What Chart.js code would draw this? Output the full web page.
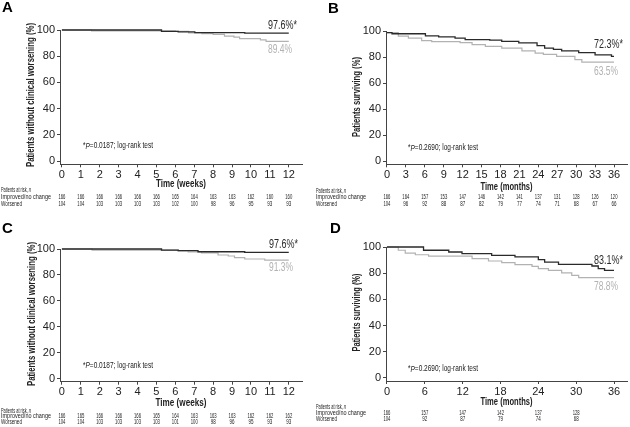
<!DOCTYPE html>
<html>
<head>
<meta charset="utf-8">
<script src="https://cdn.jsdelivr.net/npm/chart.js@4.4.0/dist/chart.umd.min.js"></script>
<style>
  html, body { margin: 0; padding: 0; background: #fff; }
  #wrap { position: relative; width: 630px; height: 427px; overflow: hidden; }
  canvas { position: absolute; }
</style>
</head>
<body>
<div id="wrap">
  <canvas id="cA" width="315" height="213" style="left:0;top:0"></canvas>
  <canvas id="cB" width="315" height="213" style="left:315px;top:0"></canvas>
  <canvas id="cC" width="315" height="214" style="left:0;top:213px"></canvas>
  <canvas id="cD" width="315" height="214" style="left:315px;top:213px"></canvas>
</div>
<script>
const FONT = "'Liberation Sans Narrow', 'Liberation Sans', Arial, sans-serif";
const BLACK = "#2a2a2a";
const GRAY = "#b2b2b2";
const AXIS = "#444";

// tick labels
const weekTicks = [0, 1, 2, 3, 4, 5, 6, 7, 8, 9, 10, 11, 12];
const monthTicksB = [0, 3, 6, 9, 12, 15, 18, 21, 24, 27, 30, 33, 36];
const monthTicksD = [0, 6, 12, 18, 24, 30, 36];
const riskTicksD = [0, 6, 12, 18, 24, 30];
const pctTicks = [0, 10, 20, 30, 40, 50, 60, 70, 80, 90, 100];

// A: clinical worsening (weeks)
const aImpT = [0, 5.27, 6.15, 7.03, 9.67, 12];
const aImpS = [100, 99.0, 98.5, 98.0, 97.6, 97.6];
const aWorT = [0, 1.57, 6.0, 6.7, 7.4, 8.0, 8.6, 9.1, 9.4, 10.5, 10.8, 12];
const aWorS = [100, 99.4, 99.0, 97.8, 97.2, 96.6, 95.4, 94.6, 93.4, 92.4, 91.3, 91.3];
const aRiskImp = [166, 166, 166, 166, 166, 166, 165, 164, 163, 163, 162, 160, 160];
const aRiskWor = [104, 104, 103, 103, 103, 103, 102, 100, 98, 96, 95, 93, 93];
const aEnd = ["97.6%*", "89.4%"];

// B: survival (months)
const bImpT = [0, 0.8, 6.1, 8.2, 10.8, 12.4, 16.3, 18.2, 20.9, 23.8, 25, 26.4, 27.7, 30.4, 33, 35.6, 36];
const bImpS = [98.7, 97.9, 96.3, 95.5, 94.5, 93.4, 93.0, 92.0, 90.8, 88.7, 86.8, 85.8, 84.7, 83.4, 81.6, 80.5, 80.5];
const bWorT = [0, 1.8, 3.4, 5.5, 7.1, 11.6, 13.5, 15.6, 18.2, 21.4, 23.5, 24.8, 26.9, 29.8, 30.9, 36];
const bWorS = [98.7, 96.0, 94.5, 92.6, 91.8, 91.0, 89.5, 88.2, 86.8, 84.7, 83.0, 82.0, 80.5, 78.0, 76.0, 76.0];
const bRiskImp = [166, 164, 157, 153, 147, 146, 142, 141, 137, 131, 128, 126, 120];
const bRiskWor = [104, 96, 92, 88, 87, 82, 79, 77, 74, 71, 68, 67, 66];
const bEnd = ["72.3%*", "63.5%"];

// C: clinical worsening (weeks)
const cImpT = [0, 5.27, 6.15, 7.2, 9.67, 12];
const cImpS = [100, 99.2, 98.7, 97.9, 97.4, 97.4];
const cWorT = [0, 1.6, 6.15, 6.68, 7.38, 8.26, 8.8, 9.13, 9.67, 10.73, 12];
const cWorS = [100, 99.2, 98.6, 97.8, 97.0, 95.4, 94.6, 93.3, 92.3, 91.5, 91.5];
const cRiskImp = [166, 165, 166, 166, 166, 165, 164, 163, 163, 163, 162, 162, 162];
const cRiskWor = [104, 104, 103, 103, 103, 103, 101, 100, 98, 96, 95, 93, 93];
const cEnd = ["97.6%*", "91.3%"];

// D: survival (months)
const dImpT = [0, 5.8, 9.8, 11.9, 16.6, 20.3, 24, 25, 27.2, 32.5, 33.5, 34.5, 36];
const dImpS = [100, 97.5, 96.2, 94.9, 93.6, 92.4, 90.3, 88.5, 86.8, 85.5, 83.5, 82.2, 82.2];
const dWorT = [0, 1.8, 2.9, 4.5, 6.6, 13.5, 16.1, 18.2, 20.3, 23, 24, 25.6, 27.7, 29.3, 30.4, 36];
const dWorS = [100, 97.5, 95.4, 94.1, 93.1, 91.1, 89.3, 88.0, 86.5, 85.2, 83.5, 82.2, 80.2, 78.4, 76.6, 76.6];
const dRiskImp = [166, 157, 147, 142, 137, 128];
const dRiskWor = [104, 92, 87, 79, 74, 68];
const dEnd = ["83.1%*", "78.8%"];

function steps(t, s) {
  return t.map((v, i) => ({ x: v, y: s[i] }));
}

// draw a run of text parts ({t, it}) squeezed to width w
function drawParts(ctx, parts, x, y, w, size, weight, color, align, rot) {
  ctx.save();
  ctx.textBaseline = "middle";
  ctx.fillStyle = color;
  const fonts = parts.map(p => (p.it ? "italic " : "") + (weight || "normal") + " " + size + "px " + FONT);
  let tot = 0;
  parts.forEach((p, i) => { ctx.font = fonts[i]; tot += ctx.measureText(p.t).width; });
  ctx.translate(x, y);
  if (rot) ctx.rotate(-Math.PI / 2);
  ctx.scale(w ? w / tot : 1, 1);
  let cx = align === "center" ? -tot / 2 : align === "right" ? -tot : 0;
  parts.forEach((p, i) => {
    ctx.font = fonts[i];
    ctx.textAlign = "left";
    ctx.fillText(p.t, cx, 0);
    cx += ctx.measureText(p.t).width;
  });
  ctx.restore();
}

function textPlugin(p) {
  return {
    id: "panelText",
    afterDraw(chart) {
      const ctx = chart.ctx;
      const xs = chart.scales.x;
      // panel letter
      ctx.save();
      ctx.font = "bold 15px 'Liberation Sans', Arial, sans-serif";
      ctx.fillStyle = "#000";
      ctx.textBaseline = "middle";
      ctx.fillText(p.letter, p.letterX, p.letterY);
      ctx.restore();
      // axis titles
      drawParts(ctx, [{ t: p.yTitle }], p.yTitleX, p.yTitleY, p.yTitleW, 11, "bold", "#222", "center", true);
      drawParts(ctx, [{ t: p.xTitle }], (chart.chartArea.left + chart.chartArea.right) / 2, p.xTitleY, p.xTitleW, 11, "bold", "#222", "center");
      // end labels
      drawParts(ctx, [{ t: p.end[0] }], p.endX, p.endY[0], p.end[0].length > 5 ? 29 : 24, 12, "normal", BLACK, "left");
      drawParts(ctx, [{ t: p.end[1] }], p.endX, p.endY[1], 24, 12, "normal", GRAY, "left");
      // p-value note
      drawParts(ctx, [{ t: "*" }, { t: "P", it: true }, { t: p.pval + "; log-rank test" }], p.pX, p.pY, 70, 9, "normal", "#222", "left");
      // number at risk table
      drawParts(ctx, [{ t: "Patients at risk, " }, { t: "n", it: true }], 1, p.rows[0], 30, 7, "normal", "#222", "left");
      drawParts(ctx, [{ t: "Improved/no change" }], 1, p.rows[1], 50, 7, "normal", "#222", "left");
      drawParts(ctx, [{ t: "Worsened" }], 1, p.rows[2], 21, 7, "normal", "#222", "left");
      p.riskT.forEach((t, i) => {
        const px = xs.getPixelForValue(t);
        drawParts(ctx, [{ t: String(p.riskImp[i]) }], px, p.rows[1], 7, 7, "normal", "#222", "center");
        drawParts(ctx, [{ t: String(p.riskWor[i]) }], px, p.rows[2], p.riskWor[i] >= 100 ? 7 : 5, 7, "normal", "#222", "center");
      });
    }
  };
}

function makeChart(id, p) {
  const cv = document.getElementById(id);
  const W = cv.width, H = cv.height;
  const XH = 16;
  return new Chart(cv, {
    type: "line",
    data: {
      datasets: [
        { data: steps(p.impT, p.impS), borderColor: BLACK, borderWidth: 1.3, pointRadius: 0, stepped: true, fill: false, clip: 4 },
        { data: steps(p.worT, p.worS), borderColor: GRAY, borderWidth: 1.2, pointRadius: 0, stepped: true, fill: false, clip: 4 }
      ]
    },
    options: {
      responsive: false,
      animation: false,
      devicePixelRatio: 1,
      events: [],
      layout: {
        padding: { left: 0, top: p.area[1], right: W - p.area[2], bottom: H - p.area[3] - XH }
      },
      plugins: { legend: { display: false }, tooltip: { enabled: false } },
      scales: {
        x: {
          type: "linear",
          min: p.xMin,
          max: p.xMax,
          afterBuildTicks: s => { s.ticks = p.xTicks.map(v => ({ value: v })); },
          afterFit: s => { s.height = XH; },
          grid: { drawOnChartArea: false, drawTicks: true, tickLength: 3, color: AXIS },
          border: { display: true, color: AXIS, width: 1 },
          ticks: {
            font: { family: FONT, size: 11, lineHeight: 1 },
            color: "#222",
            padding: p.xTickPad,
            maxRotation: 0,
            autoSkip: false,
            callback: v => String(v)
          }
        },
        y: {
          min: p.yMin,
          max: 100,
          afterBuildTicks: s => { s.ticks = pctTicks.map(v => ({ value: v })); },
          afterFit: s => { s.width = p.area[0]; },
          grid: { drawOnChartArea: false, drawTicks: true, tickLength: 3, color: AXIS },
          border: { display: true, color: AXIS, width: 1 },
          ticks: {
            font: { family: FONT, size: 11, lineHeight: 1 },
            color: "#222",
            padding: 2,
            callback: v => String(v)
          }
        }
      }
    },
    plugins: [textPlugin(p)]
  });
}

makeChart("cA", {
  impT: aImpT, impS: aImpS, worT: aWorT, worS: aWorS,
  riskT: weekTicks, riskImp: aRiskImp, riskWor: aRiskWor, end: aEnd,
  xTicks: weekTicks, xMin: -0.1, xMax: 12.7, yMin: -2.5,
  area: [60, 30, 302, 164.3], xTickPad: 2,
  letter: "A", letterX: 2, letterY: 8,
  yTitle: "Patients without clinical worsening (%)", yTitleX: 31, yTitleY: 95, yTitleW: 144,
  xTitle: "Time (weeks)", xTitleY: 183.5, xTitleW: 50,
  endX: 268, endY: [25.5, 49.7],
  pval: "=0.0187", pX: 83, pY: 146,
  rows: [190.5, 197, 204]
});

makeChart("cB", {
  impT: bImpT, impS: bImpS, worT: bWorT, worS: bWorS,
  riskT: monthTicksB, riskImp: bRiskImp, riskWor: bRiskWor, end: bEnd,
  xTicks: monthTicksB, xMin: -0.15, xMax: 38.06, yMin: -2.5,
  area: [71, 31, 312, 164.3], xTickPad: 2,
  letter: "B", letterX: 13, letterY: 9,
  yTitle: "Patients surviving (%)", yTitleX: 42, yTitleY: 97, yTitleW: 80,
  xTitle: "Time (months)", xTitleY: 187, xTitleW: 52,
  endX: 279, endY: [45, 72],
  pval: "=0.2690", pX: 93, pY: 148,
  rows: [191, 197, 204.5]
});

makeChart("cC", {
  impT: cImpT, impS: cImpS, worT: cWorT, worS: cWorS,
  riskT: weekTicks, riskImp: cRiskImp, riskWor: cRiskWor, end: cEnd,
  xTicks: weekTicks, xMin: -0.1, xMax: 12.7, yMin: -2.1,
  area: [60, 36, 302, 168.7], xTickPad: 2,
  letter: "C", letterX: 2, letterY: 16,
  yTitle: "Patients without clinical worsening (%)", yTitleX: 32, yTitleY: 101, yTitleW: 144,
  xTitle: "Time (weeks)", xTitleY: 190, xTitleW: 51,
  endX: 269, endY: [31.5, 54.8],
  pval: "=0.0187", pX: 83, pY: 152.5,
  rows: [198, 203.5, 209]
});

makeChart("cD", {
  impT: dImpT, impS: dImpS, worT: dWorT, worS: dWorS,
  riskT: riskTicksD, riskImp: dRiskImp, riskWor: dRiskWor, end: dEnd,
  xTicks: monthTicksD, xMin: -0.15, xMax: 38.06, yMin: -2.3,
  area: [71, 34, 312, 168], xTickPad: 2,
  letter: "D", letterX: 15, letterY: 16,
  yTitle: "Patients surviving (%)", yTitleX: 42, yTitleY: 99.5, yTitleW: 78,
  xTitle: "Time (months)", xTitleY: 189, xTitleW: 52,
  endX: 279, endY: [47.8, 73.7],
  pval: "=0.2690", pX: 93, pY: 156,
  rows: [194, 200, 206]
});
</script>
</body>
</html>
